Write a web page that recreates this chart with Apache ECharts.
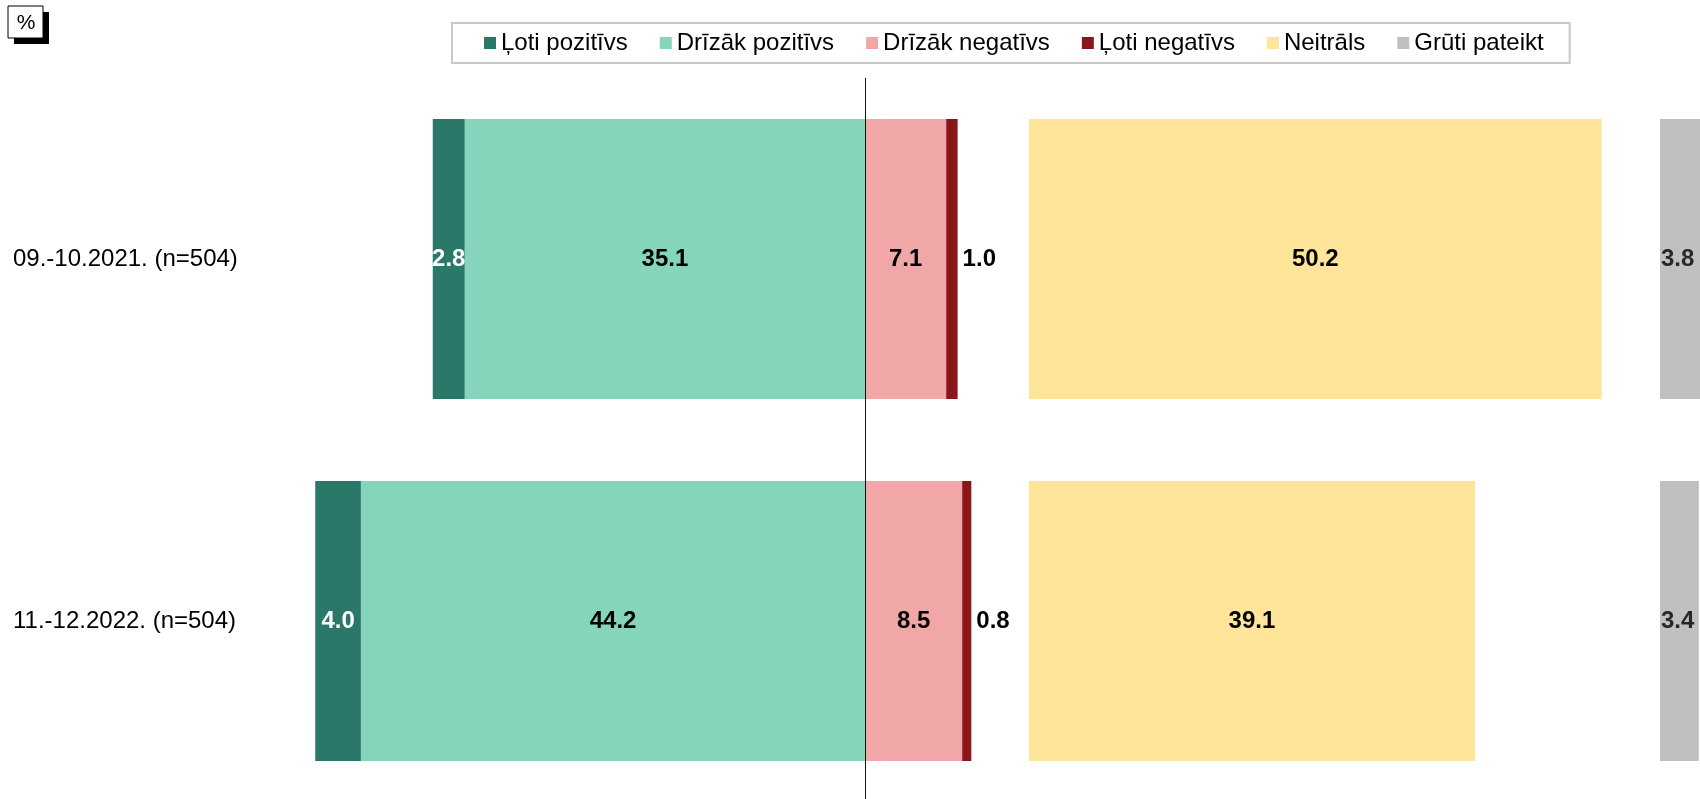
<!DOCTYPE html>
<html>
<head>
<meta charset="utf-8">
<script src="https://cdn.jsdelivr.net/npm/echarts@6/dist/echarts.min.js"></script>
<style>
  html, body { margin: 0; padding: 0; background: #fff; }
  #chart { width: 1700px; height: 799px; }
</style>
</head>
<body>
<div id="chart"></div>
<script>
// Survey waves (rows)
const categories = ['09.-10.2021. (n=504)', '11.-12.2022. (n=504)'];

// Shares in percent per answer group
const lotiPozitivs = [2.8, 4.0];
const drizakPozitivs = [35.1, 44.2];
const drizakNegativs = [7.1, 8.5];
const lotiNegativs = [1.0, 0.8];
const neitrals = [50.2, 39.1];
const grutiPateikt = [3.8, 3.4];

const legendNames = ['Ļoti pozitīvs', 'Drīzāk pozitīvs', 'Drīzāk negatīvs', 'Ļoti negatīvs', 'Neitrāls', 'Grūti pateikt'];

const colors = {
  lotiPoz: '#29786a',
  drizPoz: '#84d5bc',
  drizNeg: '#f1a7a8',
  lotiNeg: '#8b1519',
  neit: '#fee599',
  gruti: '#c0c0c0'
};

// One unit of percent takes the same width in all three panels
const unit = 11.41;
const zeroX = 865.2;
const gridTop = 78;
const gridHeight = 724;
const barW = 280;

const fmt = p => Math.abs(p.value).toFixed(1);
const FONT = 'Liberation Sans, Arial, sans-serif';
const labelBase = { show: true, fontSize: 24, fontWeight: 'bold', color: '#000', fontFamily: FONT };

const chart = echarts.init(document.getElementById('chart'), null, { renderer: 'canvas' });

chart.setOption({
  animation: false,
  textStyle: { fontFamily: FONT },
  legend: {
    data: legendNames,
    left: 452,
    top: 23,
    padding: [8, 26, 8, 32],
    itemGap: 32,
    itemWidth: 12,
    itemHeight: 12,
    icon: 'rect',
    backgroundColor: '#fff',
    borderColor: '#c8c8c8',
    borderWidth: 2,
    textStyle: { fontSize: 24, color: '#000', fontFamily: FONT }
  },
  graphic: [
    { type: 'rect', x: 14, y: 12, shape: { x: 0, y: 0, width: 35, height: 32 }, style: { fill: '#000' }, z: 10 },
    { type: 'rect', x: 8, y: 6, shape: { x: 0, y: 0, width: 35, height: 32 }, style: { fill: '#fff', stroke: '#000', lineWidth: 1 }, z: 11 },
    { type: 'text', x: 26, y: 23, style: { text: '%', fontSize: 21, fill: '#000', fontFamily: FONT, align: 'center', verticalAlign: 'middle' }, z: 12 }
  ],
  grid: [
    { left: zeroX - 50 * unit, top: gridTop, width: 60 * unit, height: gridHeight, outerBoundsMode: 'none', containLabel: false },
    { left: 1028.9, top: gridTop, width: 55 * unit, height: gridHeight, outerBoundsMode: 'none', containLabel: false },
    { left: 1660, top: gridTop, width: 5 * unit, height: gridHeight, outerBoundsMode: 'none', containLabel: false }
  ],
  xAxis: [
    { gridIndex: 0, type: 'value', min: -50, max: 10, show: false },
    { gridIndex: 1, type: 'value', min: 0, max: 55, show: false },
    { gridIndex: 2, type: 'value', min: 0, max: 5, show: false }
  ],
  yAxis: [
    {
      gridIndex: 0, type: 'category', data: categories, inverse: true,
      axisLine: { show: false }, axisTick: { show: false }, splitLine: { show: false },
      axisLabel: { align: 'left', margin: zeroX - 50 * unit - 13, fontSize: 24, color: '#000' }
    },
    { gridIndex: 1, type: 'category', data: categories, inverse: true, show: false },
    { gridIndex: 2, type: 'category', data: categories, inverse: true, show: false }
  ],
  series: [
    {
      name: 'Drīzāk pozitīvs', type: 'bar', stack: 'total', xAxisIndex: 0, yAxisIndex: 0,
      barWidth: barW, data: drizakPozitivs.map(v => -v),
      itemStyle: { color: colors.drizPoz },
      label: Object.assign({}, labelBase, { position: 'inside', formatter: fmt }),
      markLine: {
        silent: true, symbol: 'none', animation: false,
        label: { show: false },
        lineStyle: { color: '#111', width: 1, type: 'solid' },
        data: [{ xAxis: 0 }],
        z: 20
      }
    },
    {
      name: 'Ļoti pozitīvs', type: 'bar', stack: 'total', xAxisIndex: 0, yAxisIndex: 0,
      barWidth: barW, data: lotiPozitivs.map(v => -v),
      itemStyle: { color: colors.lotiPoz },
      label: Object.assign({}, labelBase, { position: 'inside', color: '#fff', formatter: fmt })
    },
    {
      name: 'Drīzāk negatīvs', type: 'bar', stack: 'total', xAxisIndex: 0, yAxisIndex: 0,
      barWidth: barW, data: drizakNegativs,
      itemStyle: { color: colors.drizNeg },
      label: Object.assign({}, labelBase, { position: 'inside', formatter: fmt })
    },
    {
      name: 'Ļoti negatīvs', type: 'bar', stack: 'total', xAxisIndex: 0, yAxisIndex: 0,
      barWidth: barW, data: lotiNegativs,
      itemStyle: { color: colors.lotiNeg },
      label: Object.assign({}, labelBase, { position: 'right', distance: 5, formatter: fmt })
    },
    {
      name: 'Neitrāls', type: 'bar', xAxisIndex: 1, yAxisIndex: 1,
      barWidth: barW, data: neitrals,
      itemStyle: { color: colors.neit },
      label: Object.assign({}, labelBase, { position: 'inside', formatter: fmt })
    },
    {
      name: 'Grūti pateikt', type: 'bar', xAxisIndex: 2, yAxisIndex: 2,
      barWidth: barW, data: grutiPateikt, clip: false,
      itemStyle: { color: colors.gruti },
      label: { show: false }
    },
    {
      // value labels for the last panel, anchored at the panel's left edge
      name: 'Grūti pateikt', type: 'scatter', xAxisIndex: 2, yAxisIndex: 2,
      symbolSize: 0, silent: true, clip: false,
      itemStyle: { color: colors.gruti },
      data: grutiPateikt.map((v, i) => [0, i, v]),
      label: Object.assign({}, labelBase, {
        position: 'right', distance: 1,
        formatter: p => p.value[2].toFixed(1)
      })
    }
  ]
});
</script>
</body>
</html>
